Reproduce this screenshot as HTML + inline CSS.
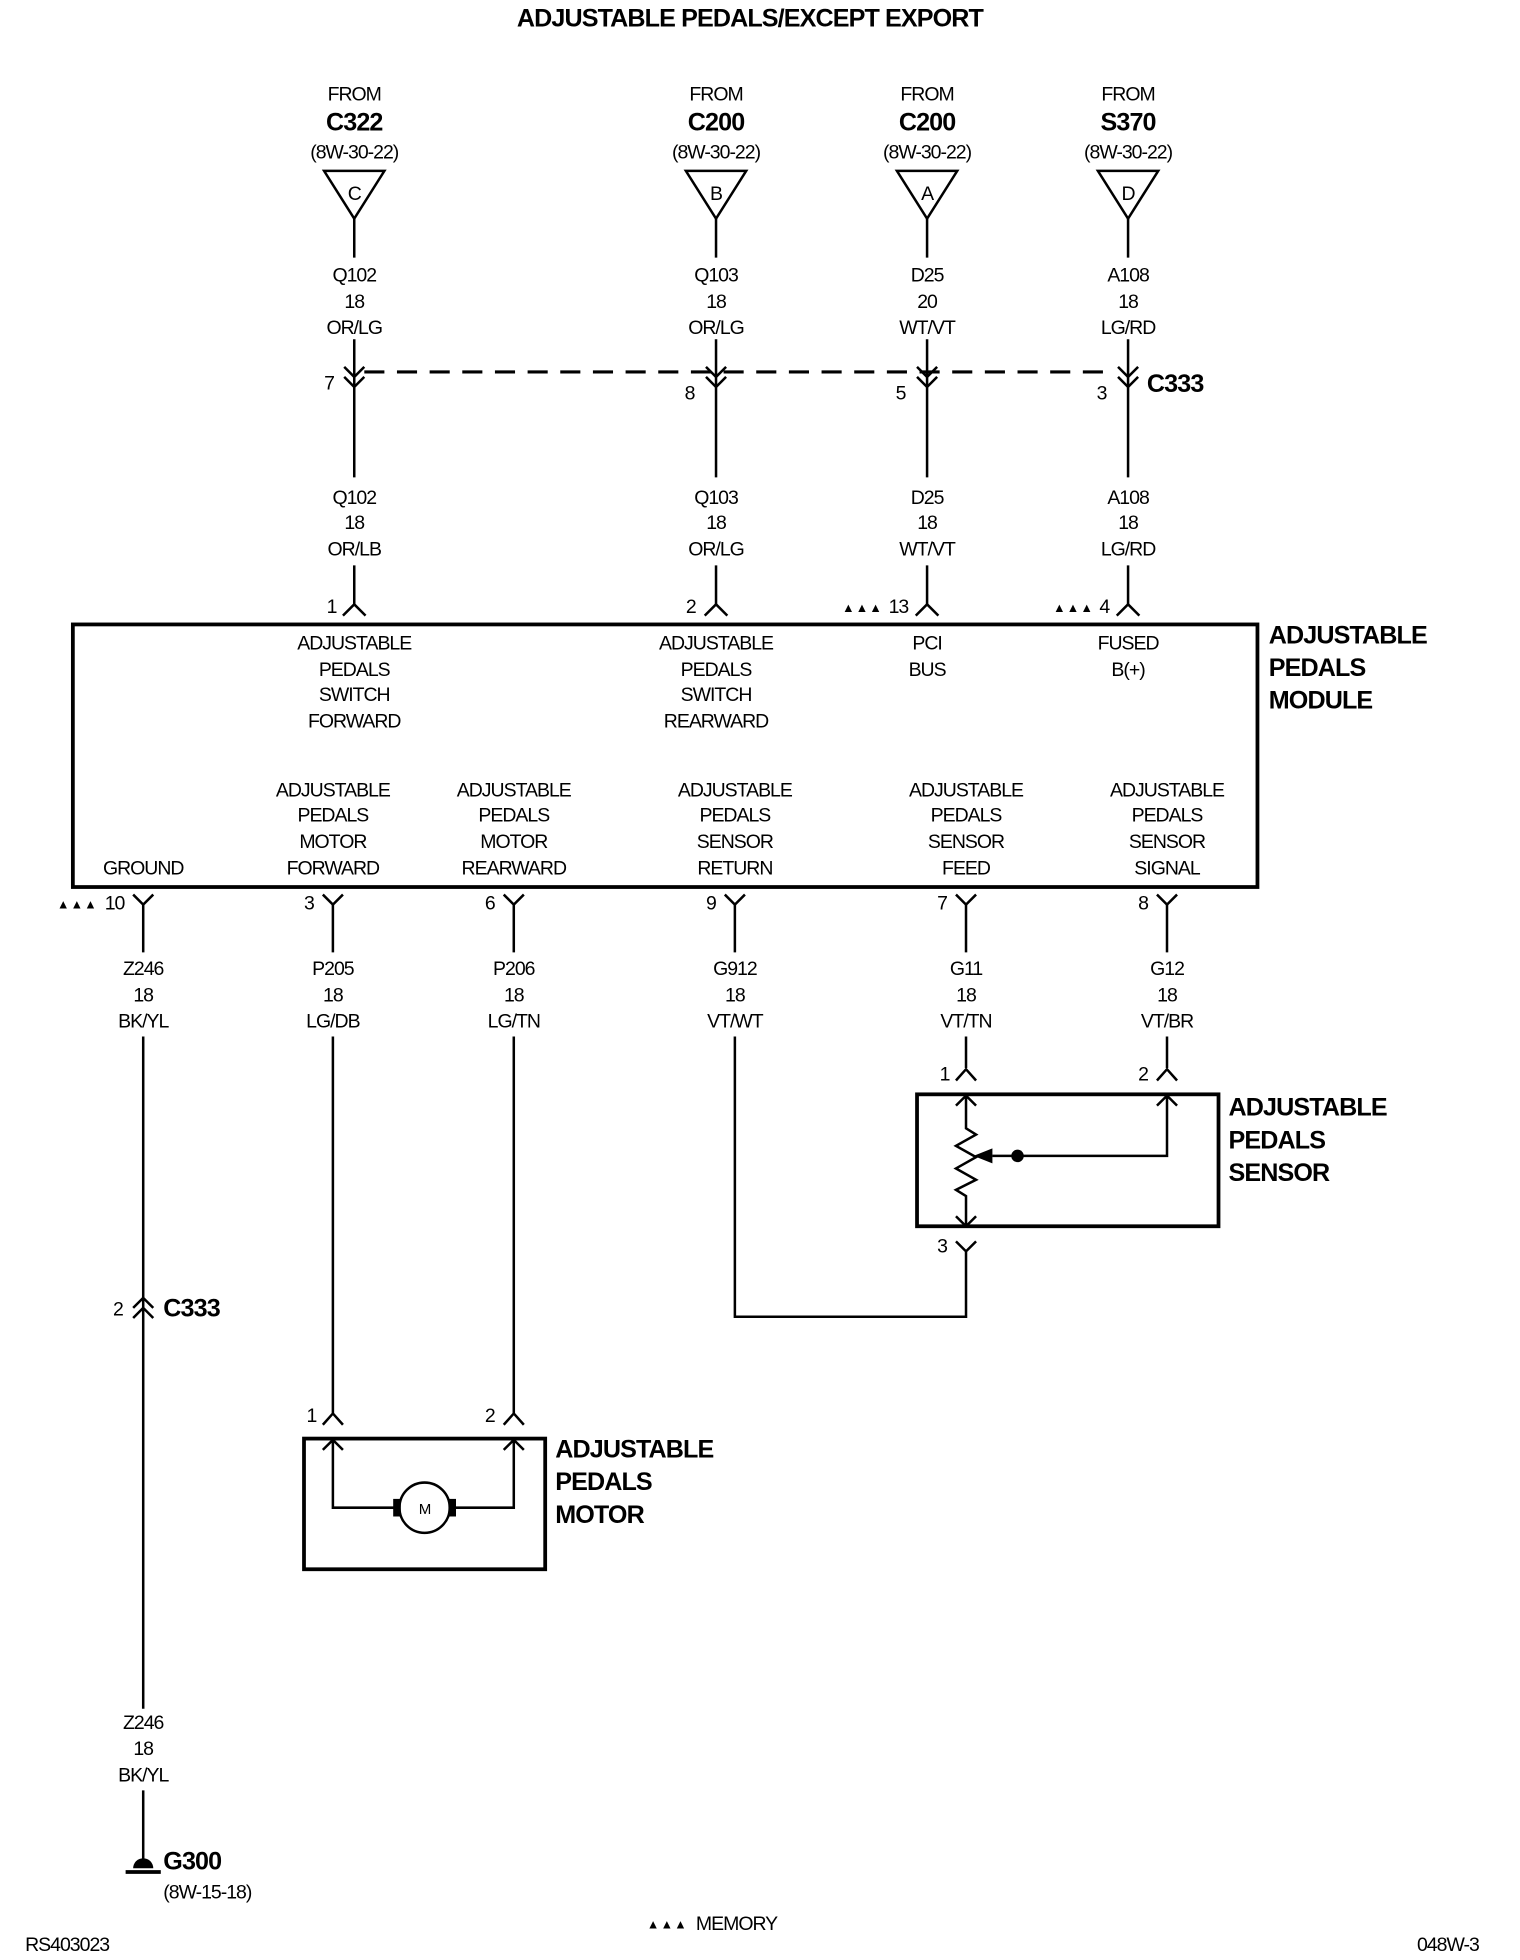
<!DOCTYPE html>
<html><head><meta charset="utf-8"><style>
html,body{margin:0;padding:0;background:#fff;}
svg{display:block;}
text{font-family:"Liberation Sans",sans-serif;fill:#000;font-size:15.5px;letter-spacing:-0.8px;}
.b{font-weight:bold;font-size:20px;letter-spacing:-0.7px;}
.m{text-anchor:middle;}
.e{text-anchor:end;}
.t{font-size:10px;letter-spacing:1px;}
</style></head><body>
<svg width="1520" height="1960" viewBox="0 0 1210 1560" preserveAspectRatio="none" xmlns="http://www.w3.org/2000/svg">
<g stroke="#000" stroke-width="2" fill="none">
<polygon points="258,136 306,136 282,174"/><polygon points="546,136 594,136 570,174"/><polygon points="714,136 762,136 738,174"/><polygon points="874,136 922,136 898,174"/>
<path d="M282 174V205M570 174V205M738 174V205M898 174V205"/>
<path d="M282 270V380M570 270V380M738 270V380M898 270V380"/>
<path d="M274 292L282 300L290 292M274 300L282 308L290 300M562 292L570 300L578 292M562 300L570 308L578 300M730 292L738 300L746 292M730 300L738 308L746 300M890 292L898 300L906 292M890 300L898 308L906 300"/>
<path d="M290 296H888" stroke-dasharray="16,10" stroke-width="2.5"/>
<path d="M282 450V481M570 450V481M738 450V481M898 450V481"/>
<path d="M273 490L282 481L291 490M561 490L570 481L579 490M729 490L738 481L747 490M889 490L898 481L907 490"/>
<rect x="58" y="497" width="943" height="209" stroke-width="3"/>
<path d="M106 712L114 720L122 712M257 712L265 720L273 712M401 712L409 720L417 712M577 712L585 720L593 712M761 712L769 720L777 712M921 712L929 720L937 712"/>
<path d="M114 720V758M265 720V758M409 720V758M585 720V758M769 720V758M929 720V758"/>
<path d="M114 825V1360M114 1425V1480"/>
<path d="M106 1041L114 1033L122 1041M106 1049L114 1041L122 1049"/>
<path d="M265 825V1125M409 825V1125M257 1134L265 1125L273 1134M401 1134L409 1125L417 1134"/>
<rect x="242" y="1145" width="192" height="104" stroke-width="3"/>
<path d="M265 1145V1200H315M361 1200H409V1145M257 1154L265 1146L273 1154M401 1154L409 1146L417 1154"/>
<circle cx="338" cy="1200" r="20"/>
<path d="M585 825V1048H769V995M761 988L769 996L777 988"/>
<path d="M769 825V850M929 825V850M761 860L769 851L777 860M921 860L929 851L937 860"/>
<rect x="730" y="871" width="240" height="105" stroke-width="3"/>
<path d="M769 872V898L777 903L761 912L777 921L761 930L777 939L761 947L769 952V976M761 880L769 872L777 880M761 968L769 976L777 968"/>
<path d="M790 920H929V872M921 880L929 872L937 880"/>
<path d="M100 1490H128" stroke-width="3"/>
</g>
<rect x="313" y="1193" width="6" height="14"/><rect x="357" y="1193" width="6" height="14"/>
<polygon points="775,920 790,914 790,926"/><circle cx="810" cy="920" r="5"/>
<path d="M106 1487A8 8 0 0 1 122 1487Z"/>
<text x="597" y="21" class="b m">ADJUSTABLE PEDALS/EXCEPT EXPORT</text>
<text x="282" y="80" class="m">FROM</text><text x="282" y="104" class="b m">C322</text><text x="282" y="126" class="m">(8W-30-22)</text><text x="282" y="159" class="m">C</text>
<text x="570" y="80" class="m">FROM</text><text x="570" y="104" class="b m">C200</text><text x="570" y="126" class="m">(8W-30-22)</text><text x="570" y="159" class="m">B</text>
<text x="738" y="80" class="m">FROM</text><text x="738" y="104" class="b m">C200</text><text x="738" y="126" class="m">(8W-30-22)</text><text x="738" y="159" class="m">A</text>
<text x="898" y="80" class="m">FROM</text><text x="898" y="104" class="b m">S370</text><text x="898" y="126" class="m">(8W-30-22)</text><text x="898" y="159" class="m">D</text>
<text x="282" y="224" class="m">Q102</text><text x="282" y="245" class="m">18</text><text x="282" y="266" class="m">OR/LG</text>
<text x="570" y="224" class="m">Q103</text><text x="570" y="245" class="m">18</text><text x="570" y="266" class="m">OR/LG</text>
<text x="738" y="224" class="m">D25</text><text x="738" y="245" class="m">20</text><text x="738" y="266" class="m">WT/VT</text>
<text x="898" y="224" class="m">A108</text><text x="898" y="245" class="m">18</text><text x="898" y="266" class="m">LG/RD</text>
<text x="282" y="401" class="m">Q102</text><text x="282" y="421" class="m">18</text><text x="282" y="442" class="m">OR/LB</text>
<text x="570" y="401" class="m">Q103</text><text x="570" y="421" class="m">18</text><text x="570" y="442" class="m">OR/LG</text>
<text x="738" y="401" class="m">D25</text><text x="738" y="421" class="m">18</text><text x="738" y="442" class="m">WT/VT</text>
<text x="898" y="401" class="m">A108</text><text x="898" y="421" class="m">18</text><text x="898" y="442" class="m">LG/RD</text>
<text x="258" y="310">7</text><text x="545" y="318">8</text><text x="713" y="318">5</text><text x="873" y="318">3</text>
<text x="913" y="312" class="b">C333</text>
<text x="260" y="488">1</text><text x="546" y="488">2</text>
<text x="703" y="487" class="e t">▲▲▲</text><text x="723" y="488" class="e">13</text>
<text x="871" y="487" class="e t">▲▲▲</text><text x="883" y="488" class="e">4</text>
<text x="282" y="517" class="m">ADJUSTABLE</text><text x="282" y="538" class="m">PEDALS</text><text x="282" y="558" class="m">SWITCH</text><text x="282" y="579" class="m">FORWARD</text>
<text x="570" y="517" class="m">ADJUSTABLE</text><text x="570" y="538" class="m">PEDALS</text><text x="570" y="558" class="m">SWITCH</text><text x="570" y="579" class="m">REARWARD</text>
<text x="738" y="517" class="m">PCI</text><text x="738" y="538" class="m">BUS</text>
<text x="898" y="517" class="m">FUSED</text><text x="898" y="538" class="m">B(+)</text>
<text x="1010" y="512" class="b">ADJUSTABLE</text><text x="1010" y="538" class="b">PEDALS</text><text x="1010" y="564" class="b">MODULE</text>
<text x="265" y="634" class="m">ADJUSTABLE</text><text x="265" y="654" class="m">PEDALS</text><text x="265" y="675" class="m">MOTOR</text><text x="265" y="696" class="m">FORWARD</text>
<text x="409" y="634" class="m">ADJUSTABLE</text><text x="409" y="654" class="m">PEDALS</text><text x="409" y="675" class="m">MOTOR</text><text x="409" y="696" class="m">REARWARD</text>
<text x="585" y="634" class="m">ADJUSTABLE</text><text x="585" y="654" class="m">PEDALS</text><text x="585" y="675" class="m">SENSOR</text><text x="585" y="696" class="m">RETURN</text>
<text x="769" y="634" class="m">ADJUSTABLE</text><text x="769" y="654" class="m">PEDALS</text><text x="769" y="675" class="m">SENSOR</text><text x="769" y="696" class="m">FEED</text>
<text x="929" y="634" class="m">ADJUSTABLE</text><text x="929" y="654" class="m">PEDALS</text><text x="929" y="675" class="m">SENSOR</text><text x="929" y="696" class="m">SIGNAL</text>
<text x="114" y="696" class="m">GROUND</text>
<text x="78" y="723" class="e t">▲▲▲</text><text x="99" y="724" class="e">10</text>
<text x="242" y="724">3</text><text x="386" y="724">6</text><text x="562" y="724">9</text><text x="746" y="724">7</text><text x="906" y="724">8</text>
<text x="114" y="776" class="m">Z246</text><text x="114" y="797" class="m">18</text><text x="114" y="818" class="m">BK/YL</text>
<text x="265" y="776" class="m">P205</text><text x="265" y="797" class="m">18</text><text x="265" y="818" class="m">LG/DB</text>
<text x="409" y="776" class="m">P206</text><text x="409" y="797" class="m">18</text><text x="409" y="818" class="m">LG/TN</text>
<text x="585" y="776" class="m">G912</text><text x="585" y="797" class="m">18</text><text x="585" y="818" class="m">VT/WT</text>
<text x="769" y="776" class="m">G11</text><text x="769" y="797" class="m">18</text><text x="769" y="818" class="m">VT/TN</text>
<text x="929" y="776" class="m">G12</text><text x="929" y="797" class="m">18</text><text x="929" y="818" class="m">VT/BR</text>
<text x="748" y="860">1</text><text x="906" y="860">2</text><text x="746" y="997">3</text>
<text x="978" y="888" class="b">ADJUSTABLE</text><text x="978" y="914" class="b">PEDALS</text><text x="978" y="940" class="b">SENSOR</text>
<text x="90" y="1047">2</text><text x="130" y="1048" class="b">C333</text>
<text x="244" y="1132">1</text><text x="386" y="1132">2</text>
<text x="338" y="1205" class="m" style="font-size:12px">M</text>
<text x="442" y="1160" class="b">ADJUSTABLE</text><text x="442" y="1186" class="b">PEDALS</text><text x="442" y="1212" class="b">MOTOR</text>
<text x="114" y="1376" class="m">Z246</text><text x="114" y="1397" class="m">18</text><text x="114" y="1418" class="m">BK/YL</text>
<text x="130" y="1488" class="b">G300</text><text x="130" y="1511">(8W-15-18)</text>
<text x="20" y="1553">RS403023</text><text x="515" y="1535" class="t">▲▲▲</text><text x="554" y="1536">MEMORY</text><text x="1128" y="1553">048W-3</text>
</svg>
</body></html>
